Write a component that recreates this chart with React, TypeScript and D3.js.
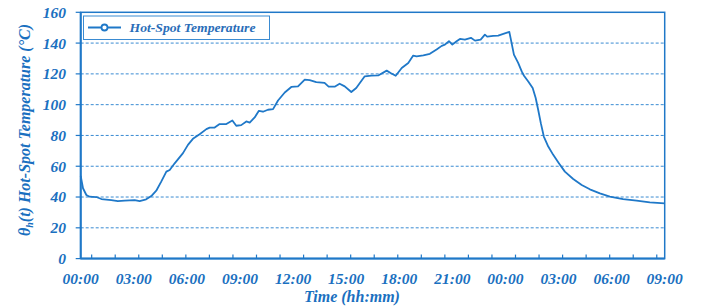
import React from "react";
import * as d3 from "d3";

const timeH = [0, 0.13, 0.32, 0.5, 0.88, 1.17, 1.73, 2.1, 2.48, 3.05, 3.33, 3.7, 3.99, 4.27, 4.55, 4.84, 5.03, 5.31, 5.78, 6.06, 6.34, 6.72, 7.1, 7.29, 7.57, 7.85, 8.23, 8.57, 8.79, 9.07, 9.36, 9.55, 9.83, 10.07, 10.3, 10.58, 10.87, 11.15, 11.53, 11.9, 12.28, 12.66, 12.94, 13.31, 13.78, 14.01, 14.35, 14.63, 14.92, 15.29, 15.57, 16.05, 16.42, 16.81, 17.29, 17.51, 17.8, 18.14, 18.51, 18.79, 18.98, 19.36, 19.73, 20.11, 20.4, 20.58, 20.81, 21, 21.24, 21.43, 21.71, 22.05, 22.28, 22.6, 22.84, 22.97, 23.31, 23.59, 23.88, 24.22, 24.29, 24.48, 24.72, 24.92, 25.05, 25.29, 25.54, 25.71, 25.85, 26.0, 26.17, 26.42, 26.7, 27.02, 27.36, 27.83, 28.31, 28.77, 29.34, 29.9, 30.65, 31.41, 32.16, 33];
const tempC = [53.7, 45.7, 41.3, 40.2, 40, 38.7, 38, 37.4, 37.6, 38, 37.4, 38.5, 40.6, 44.1, 50, 56.5, 57.6, 61.9, 68.5, 73.9, 77.8, 80.8, 84.1, 85.1, 85.1, 87.4, 87.4, 89.7, 86.3, 86.7, 89.1, 88.4, 91.7, 96, 95.4, 96.7, 97.1, 102.7, 107.9, 111.5, 111.9, 116.2, 116, 114.7, 114.1, 111.7, 111.7, 113.6, 111.9, 108.2, 110.8, 118.4, 118.9, 119, 122.1, 120.6, 118.8, 123.8, 127.1, 131.9, 131.4, 132, 133, 135.8, 138.2, 139, 141.2, 139, 141.2, 142.7, 142.3, 143.4, 141.6, 142.3, 145.5, 144.2, 144.7, 144.9, 146, 147.3, 143.4, 132.5, 127.1, 121.6, 118.8, 115.1, 110.8, 104.3, 96.7, 88, 79.3, 72.8, 67.4, 62, 56.5, 51.7, 47.8, 45, 42.4, 40.2, 38.7, 37.6, 36.5, 35.9];

const xLabelHours = [0, 3, 6, 9, 12, 15, 18, 21, 24, 27, 30, 33];
const xLabels = ["00:00", "03:00", "06:00", "09:00", "12:00", "15:00", "18:00", "21:00", "00:00", "03:00", "06:00", "09:00"];
const yTicks = [0, 20, 40, 60, 80, 100, 120, 140, 160];
const gridValues = [20, 40, 60, 80, 100, 120, 140];
const minorTickCount = 25;
const minorTickStart = 0.62;
const minorTickStep = 1.3305;

const seriesName = "Hot-Spot Temperature";

const W = 701;
const H = 308;
const L = 80.7;
const R = 664.7;
const T = 12.3;
const B = 258.6;

const BLUE = "#1f78c8";
const TEXT = "#1a70c0";
const FONT = "'Liberation Serif', 'DejaVu Serif', serif";

export default function App() {
  const x = d3.scaleLinear().domain([0, 33]).range([L, R]);
  const y = d3.scaleLinear().domain([0, 160]).range([B, T]);
  const pts = timeH.map((t, i) => [t, tempC[i]] as [number, number]);
  const line = d3
    .line<[number, number]>()
    .x((d) => x(d[0]))
    .y((d) => y(d[1]));
  const minorTicks = d3.range(minorTickCount).map((k) => minorTickStart + k * minorTickStep);

  return (
    <svg
      width={W}
      height={H}
      style={{ position: "absolute", left: 0, top: 0, background: "#fff" }}
      fontFamily={FONT}
    >
      {/* gridlines */}
      {gridValues.map((v) => (
        <line
          key={v}
          x1={L}
          x2={R}
          y1={y(v)}
          y2={y(v)}
          stroke="#3a8bd2"
          strokeWidth={1}
          strokeDasharray="3 2"
        />
      ))}
      {/* plot border */}
      <rect x={L} y={T} width={R - L} height={B - T} fill="none" stroke={BLUE} strokeWidth={1.5} />
      {/* axes */}
      <line x1={L} x2={L} y1={T} y2={B} stroke={BLUE} strokeWidth={2} />
      <line x1={L} x2={R} y1={B} y2={B} stroke={BLUE} strokeWidth={2} />
      {/* y ticks */}
      {yTicks.map((v) => (
        <g key={v}>
          <line x1={L - 5} x2={L} y1={y(v)} y2={y(v)} stroke={BLUE} strokeWidth={1.2} />
          <text
            x={66}
            y={y(v)}
            dy="0.35em"
            textAnchor="end"
            fontSize={15.5}
            fontWeight="bold"
            fontStyle="italic"
            fill={TEXT}
          >
            {v}
          </text>
        </g>
      ))}
      {/* x minor ticks */}
      {minorTicks.map((t, i) => (
        <line key={i} x1={x(t)} x2={x(t)} y1={B} y2={B - 4} stroke={BLUE} strokeWidth={1.2} />
      ))}
      {/* x labels */}
      {xLabelHours.map((h, i) => (
        <text
          key={i}
          x={x(h)}
          y={284}
          textAnchor="middle"
          fontSize={15.5}
          fontWeight="bold"
          fontStyle="italic"
          fill={TEXT}
        >
          {xLabels[i]}
        </text>
      ))}
      {/* x title */}
      <text
        x={352}
        y={302}
        textAnchor="middle"
        fontSize={16}
        fontWeight="bold"
        fontStyle="italic"
        fill={TEXT}
      >
        Time (hh:mm)
      </text>
      {/* y title */}
      <text
        transform={`translate(30,130) rotate(-90)`}
        textAnchor="middle"
        fontSize={16}
        fontWeight="bold"
        fontStyle="italic"
        fill={TEXT}
      >
        <tspan>θ</tspan>
        <tspan fontSize={10} dy={3}>h</tspan>
        <tspan dy={-3}>(t) Hot-Spot Temperature (°C)</tspan>
      </text>
      {/* series line */}
      <path d={line(pts) || ""} fill="none" stroke={BLUE} strokeWidth={1.8} strokeLinejoin="round" />
      {/* legend */}
      <rect x={83.5} y={16} width={186} height={23.5} fill="#fff" stroke="#3a8bd2" strokeWidth={1} />
      <line x1={88} x2={121} y1={27.5} y2={27.5} stroke={BLUE} strokeWidth={2} />
      <circle cx={104.5} cy={27.5} r={3} fill="#fff" stroke={BLUE} strokeWidth={1.8} />
      <text
        x={129.5}
        y={32}
        fontSize={13.5}
        fontStyle="italic"
        fontWeight="bold"
        fill="#2a6db8"
        textLength={126}
        lengthAdjust="spacingAndGlyphs"
      >
        {seriesName}
      </text>
    </svg>
  );
}
